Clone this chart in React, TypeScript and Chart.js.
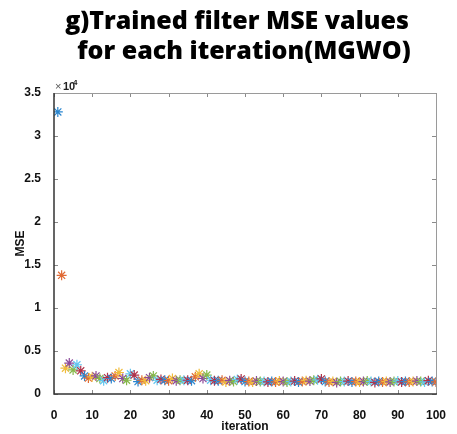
import { useEffect, useRef } from "react";
import { Chart, registerables } from "chart.js";

Chart.register(...registerables);

// MSE value at each iteration 1..100 (raw units, axis shown as x10^4)
const mseValues: number[] = [
  32800, 13800, 3000, 3600, 2800, 3400, 2700, 2100, 1850, 2000,
  2100, 1800, 1550, 1900, 1800, 2100, 2500, 1800, 1600, 2350,
  2200, 1450, 1600, 1550, 1900, 2100, 1600, 1700, 1600, 1550,
  1800, 1550, 1600, 1600, 1600, 1550, 2000, 2350, 1800, 2200,
  1600, 1550, 1550, 1600, 1400, 1550, 1450, 1700, 1750, 1450,
  1450, 1400, 1500, 1450, 1450, 1400, 1450, 1400, 1500, 1450,
  1400, 1450, 1500, 1400, 1450, 1550, 1500, 1600, 1650, 1750,
  1450, 1400, 1450, 1350, 1450, 1450, 1500, 1400, 1450, 1400,
  1450, 1500, 1450, 1350, 1450, 1400, 1450, 1400, 1450, 1500,
  1400, 1450, 1400, 1450, 1500, 1450, 1400, 1550, 1450, 1400,
];

const markerColors: string[] = [
  "#2a86cf", "#e06a35", "#f0bc3c", "#8c4a9a", "#86b84a", "#62c6f0", "#b0324a",
];

const xTickValues: number[] = [0, 10, 20, 30, 40, 50, 60, 70, 80, 90, 100];
const yTickValues: number[] = [0, 5000, 10000, 15000, 20000, 25000, 30000, 35000];

const titleLines: string[] = ["g)Trained filter MSE values", "for each iteration(MGWO)"];

const tickFont = "'Liberation Sans Narrow', 'Liberation Sans', Arial, sans-serif";
const titleFont = "800 25px 'Open Sans', 'Noto Sans', sans-serif";

const boxPlugin = {
  id: "matlabBox",
  afterDraw(chart: any) {
    const { ctx, chartArea } = chart;
    const { left, right, top, bottom } = chartArea;
    const xs = chart.scales.x;
    const ys = chart.scales.y;
    ctx.save();
    // title
    ctx.fillStyle = "#000000";
    ctx.font = titleFont;
    ctx.textAlign = "center";
    ctx.textBaseline = "middle";
    ctx.fillText(titleLines[0], 237, 22);
    ctx.fillText(titleLines[1], 244, 52);

    ctx.strokeStyle = "#8a8a8a";
    ctx.lineWidth = 1;
    const tl = 4;
    ctx.beginPath();
    xTickValues.forEach((v) => {
      const px = Math.round(xs.getPixelForValue(v)) + 0.5;
      ctx.moveTo(px, bottom);
      ctx.lineTo(px, bottom - tl);
      ctx.moveTo(px, top);
      ctx.lineTo(px, top + tl);
    });
    yTickValues.forEach((v) => {
      const py = Math.round(ys.getPixelForValue(v)) + 0.5;
      ctx.moveTo(left, py);
      ctx.lineTo(left + tl, py);
      ctx.moveTo(right, py);
      ctx.lineTo(right - tl, py);
    });
    ctx.stroke();
    ctx.strokeStyle = "#9a9a9a";
    ctx.beginPath();
    ctx.moveTo(left, top + 0.5);
    ctx.lineTo(right + 0.5, top + 0.5);
    ctx.lineTo(right + 0.5, bottom);
    ctx.stroke();
    ctx.strokeStyle = "#333333";
    ctx.lineWidth = 1.5;
    ctx.beginPath();
    ctx.moveTo(left, top);
    ctx.lineTo(left, bottom);
    ctx.lineTo(right + 1, bottom);
    ctx.stroke();
    // exponent label
    ctx.fillStyle = "#555555";
    ctx.textBaseline = "alphabetic";
    ctx.textAlign = "left";
    ctx.font = "11px 'Liberation Sans', Arial, sans-serif";
    ctx.fillText("\u00d7", left + 1, top - 3);
    ctx.fillStyle = "#222222";
    ctx.font = `bold 11px ${tickFont}`;
    ctx.fillText("10", left + 9, top - 3);
    ctx.font = `bold 8px ${tickFont}`;
    ctx.fillText("4", left + 19, top - 8);
    ctx.restore();
  },
};

export default function App() {
  const ref = useRef<HTMLCanvasElement | null>(null);
  useEffect(() => {
    if (!ref.current) return;
    const data = mseValues.map((v, i) => ({ x: i + 1, y: v }));
    const colors = mseValues.map((_, i) => markerColors[i % markerColors.length]);
    const chart = new Chart(ref.current, {
      type: "scatter",
      data: {
        datasets: [
          {
            data,
            pointStyle: "star",
            pointRadius: 5,
            pointBorderWidth: 1.2,
            pointBorderColor: colors,
            pointBackgroundColor: colors,
            showLine: false,
          },
        ],
      },
      plugins: [boxPlugin],
      options: {
        animation: false,
        responsive: false,
        layout: { padding: { left: 0, right: 21, top: 93, bottom: 0 } },
        plugins: {
          legend: { display: false },
          tooltip: { enabled: false },
          title: { display: false },
        },
        scales: {
          x: {
            type: "linear",
            min: 0,
            max: 100,
            grid: { display: false },
            border: { display: false },
            afterFit: (s: any) => { s.height = 40; },
            afterBuildTicks: (s: any) => { s.ticks = xTickValues.map((v) => ({ value: v })); },
            ticks: {
              padding: 6,
              color: "#111111",
              font: { family: tickFont, size: 12, weight: "bold" },
              maxRotation: 0,
            },
            title: {
              display: true,
              text: "iteration",
              color: "#111111",
              font: { family: tickFont, size: 12, weight: "bold", lineHeight: 1.2 },
              padding: { top: 4, bottom: 0 },
            },
          },
          y: {
            type: "linear",
            min: 0,
            max: 35000,
            grid: { display: false },
            border: { display: false },
            afterFit: (s: any) => { s.width = 54; },
            afterBuildTicks: (s: any) => { s.ticks = yTickValues.map((v) => ({ value: v })); },
            ticks: {
              padding: 5,
              color: "#111111",
              font: { family: tickFont, size: 12, weight: "bold" },
              callback: (v: any) => String(Number(v) / 10000),
            },
            title: {
              display: true,
              text: "MSE",
              color: "#111111",
              font: { family: tickFont, size: 12, weight: "bold", lineHeight: 1.2 },
              padding: { top: 13, bottom: 0 },
            },
          },
        },
      },
    });
    return () => chart.destroy();
  }, []);
  return (
    <div style={{ position: "absolute", left: 0, top: 0, width: 457, height: 434, background: "#ffffff" }}>
      <canvas ref={ref} width={457} height={434} style={{ display: "block" }} />
    </div>
  );
}
